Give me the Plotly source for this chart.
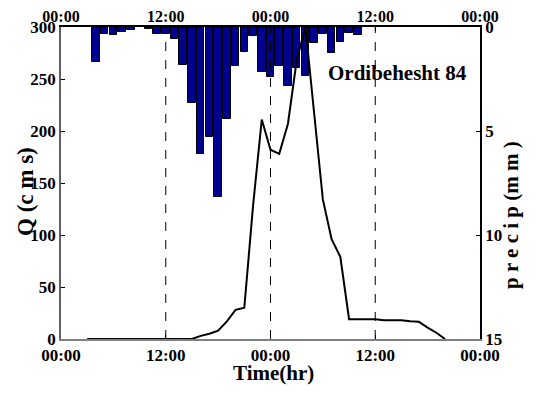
import plotly.graph_objects as go

# ---- data ----
precip_hours = list(range(4, 35))
precip_mm = [1.70, 0.32, 0.38, 0.25, 0.14, 0.0, 0.08, 0.34, 0.34, 0.58,
             1.83, 3.64, 6.12, 5.30, 8.19, 4.44, 1.88, 1.22, 0.43, 2.15,
             2.39, 1.88, 2.84, 1.96, 2.34, 0.75, 0.34, 1.26, 0.71, 0.27, 0.38]

q_hours = list(range(3, 45))
q_cms = [0, 0, 0, 0, 0, 0, 0, 0, 0, 0, 0, 0, 0,
         3, 5, 8, 17, 28, 30, 128, 211, 182, 178, 207, 268, 300,
         216, 134, 96, 79, 19, 19, 19, 19, 18, 18, 18, 17, 16.5, 11, 6, 0]

time_ticks = [0, 12, 24, 36, 48]
time_labels = ["00:00", "12:00", "00:00", "12:00", "00:00"]
q_ticks = [0, 50, 100, 150, 200, 250, 300]
p_ticks = [0, 5, 10, 15]
event_label = "Ordibehesht 84"

FONT = "Liberation Serif"
tickfont = dict(family=FONT, size=17, color="black", weight="bold")
toptickfont = dict(family=FONT, size=16, color="black", weight="bold")

# page body has an 8px default margin -> figure is drawn at (8, 8)
OFF = 8
W, H = 531, 386
ML, MR, MT, MB = 53, 59, 19, 55

fig = go.Figure()
fig.add_trace(go.Bar(
    x=precip_hours, y=precip_mm, xaxis="x", yaxis="y",
    width=0.86, marker=dict(color="#00008f", line=dict(color="black", width=1)),
    showlegend=False,
))
fig.add_trace(go.Scatter(
    x=q_hours, y=q_cms, xaxis="x2", yaxis="y2", mode="lines",
    line=dict(color="black", width=2), showlegend=False,
))

for h in [12, 24, 36]:
    fig.add_shape(type="line", xref="x", yref="paper", x0=h, x1=h, y0=0, y1=1,
                  line=dict(color="black", width=1, dash="dash"), layer="above")

fig.update_layout(
    template="none",
    width=W, height=H,
    margin=dict(l=ML, r=MR, t=MT, b=MB, autoexpand=False),
    paper_bgcolor="white", plot_bgcolor="white",
    bargap=0,
    xaxis=dict(range=[0, 48], tickvals=time_ticks, ticktext=time_labels,
               tickfont=tickfont, showgrid=False, zeroline=False, automargin=False,
               showline=True, linecolor="#808080", linewidth=1.5,
               ticks="inside", ticklen=4, tickcolor="black", side="bottom"),
    xaxis2=dict(range=[0, 48], tickvals=time_ticks, ticktext=time_labels,
                tickfont=toptickfont, showgrid=False, zeroline=False, automargin=False,
                showline=True, linecolor="black", linewidth=1.5,
                ticks="inside", ticklen=4, tickcolor="black", ticklabelstandoff=-3,
                side="top", overlaying="x", anchor="y2"),
    yaxis=dict(range=[15, 0], tickvals=p_ticks, tickfont=tickfont,
               showgrid=False, zeroline=False, side="right", automargin=False,
               showline=True, linecolor="black", linewidth=1.5,
               ticks="inside", ticklen=4, tickcolor="black", anchor="x"),
    yaxis2=dict(range=[0, 300], tickvals=q_ticks, tickfont=tickfont,
                showgrid=False, zeroline=False, side="left", automargin=False,
                showline=True, linecolor="#606060", linewidth=1.5,
                ticks="inside", ticklen=4, tickcolor="black",
                overlaying="y", anchor="x2"),
    annotations=[
        dict(text=event_label, x=397, y=73, showarrow=False,
             font=dict(family=FONT, size=21, color="black", weight="bold")),
        dict(text="Time(hr)", x=273, y=373, showarrow=False,
             font=dict(family=FONT, size=21, color="black", weight="bold")),
        dict(text="Q (c m s)", x=25, y=192, textangle=-90, showarrow=False,
             font=dict(family=FONT, size=23, color="black", weight="bold")),
        dict(text="p r e c i p (m m )", x=511, y=215, textangle=-90, showarrow=False,
             font=dict(family=FONT, size=21, color="black", weight="bold")),
    ],
)

# convert page-pixel positions of annotations into paper coordinates
pw, ph = W - ML - MR, H - MT - MB
for a in fig.layout.annotations:
    a.xref = "paper"; a.yref = "paper"
    a.x = (a.x - OFF - ML) / pw
    a.y = 1 - (a.y - OFF - MT) / ph
    a.xanchor = "center"; a.yanchor = "middle"

fig.write_html("out.html")
